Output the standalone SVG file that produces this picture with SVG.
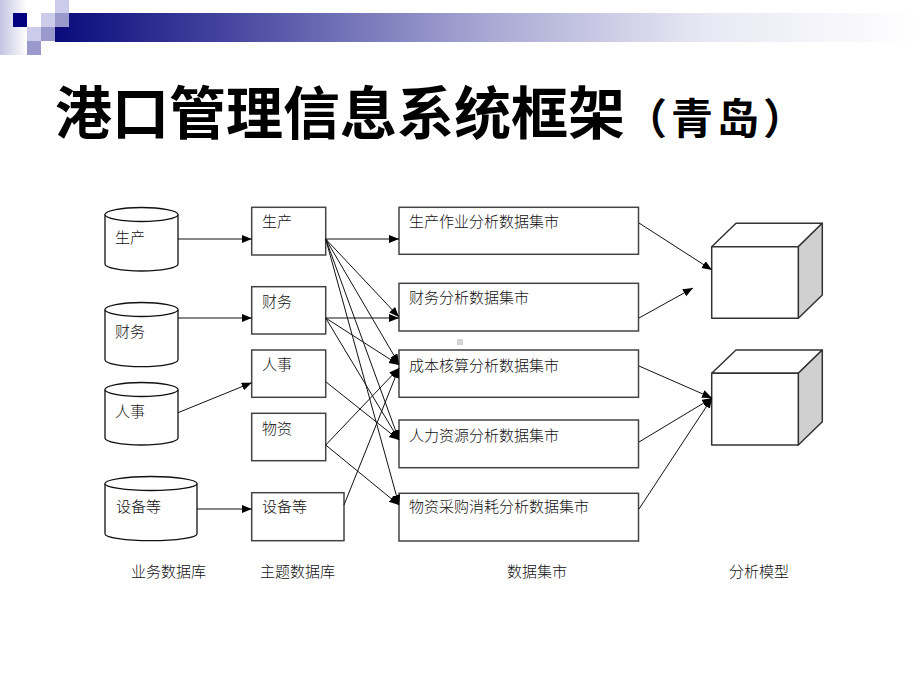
<svg xmlns="http://www.w3.org/2000/svg" width="920" height="690" viewBox="0 0 920 690">
<defs>
<linearGradient id="barG" x1="55" y1="0" x2="920" y2="0" gradientUnits="userSpaceOnUse">
<stop offset="0" stop-color="#0a0a7c"/>
<stop offset="0.2" stop-color="#4646a0"/>
<stop offset="0.5" stop-color="#a8a8d4"/>
<stop offset="0.75" stop-color="#e8e8f4"/>
<stop offset="1" stop-color="#ffffff"/>
</linearGradient>
<linearGradient id="leftG" x1="0" y1="0" x2="1" y2="0">
<stop offset="0" stop-color="#c4c4e2"/>
<stop offset="1" stop-color="#ffffff"/>
</linearGradient>
<marker id="ah" markerUnits="userSpaceOnUse" markerWidth="11" markerHeight="9" refX="10" refY="4" orient="auto">
<path d="M0,0 L10,4 L0,8 z" fill="#000"/>
</marker>
<style>
.t{font-family:"Noto Sans CJK SC","Noto Sans CJK JP",sans-serif;font-size:15px;font-weight:300;fill:#111;}
.box{fill:#fff;stroke:#444;stroke-width:1.5;}
.cyl{fill:#fff;stroke:#111;stroke-width:1.3;}
.cn line{stroke:#111;stroke-width:1;marker-end:url(#ah);}
.cube{fill:#fff;stroke:#333;stroke-width:1.5;stroke-linejoin:round;}
.side{fill:#d0d0d0;stroke:#333;stroke-width:1.5;stroke-linejoin:round;}
</style>
</defs>
<rect width="920" height="690" fill="#fff"/>
<!-- top decoration -->
<g id="decoration">
<rect x="0" y="0" width="27" height="55" fill="url(#leftG)"/>
<rect x="55" y="13" width="865" height="29" fill="url(#barG)"/>
<rect x="13" y="13" width="14" height="14" fill="#000080"/>
<rect x="55" y="0" width="14" height="13" fill="#ccccea"/>
<rect x="41" y="13" width="14" height="14" fill="#ccccea"/>
<rect x="55" y="13" width="14" height="14" fill="#9999cc"/>
<rect x="27" y="27" width="14" height="14" fill="#ccccea"/>
<rect x="41" y="27" width="14" height="14" fill="#9999cc"/>
<rect x="27" y="41" width="14" height="14" fill="#9999cc"/>
</g>
<text id="title" x="55" y="134" font-family="'Noto Sans CJK SC','Noto Sans CJK JP',sans-serif" font-weight="bold" font-size="57" fill="#000">港口管理信息系统框架<tspan font-size="42" letter-spacing="4">（青岛）</tspan></text>
<rect x="457" y="339" width="6" height="6" fill="#d4d4d4"/>
<!-- cylinders -->
<g id="db-production">
<path class="cyl" d="M105,214.5 A36.5,7 0 0 1 178,214.5 L178,264 A36.5,7 0 0 1 105,264 Z"/>
<path class="cyl" d="M105,214.5 A36.5,7 0 0 0 178,214.5"/>
<text class="t" x="115" y="243">生产</text>
</g>
<g id="db-finance">
<path class="cyl" d="M105,309.5 A36.5,7 0 0 1 178,309.5 L178,359.7 A36.5,7 0 0 1 105,359.7 Z"/>
<path class="cyl" d="M105,309.5 A36.5,7 0 0 0 178,309.5"/>
<text class="t" x="115" y="337">财务</text>
</g>
<g id="db-hr">
<path class="cyl" d="M105,389.5 A36.5,7 0 0 1 178,389.5 L178,438 A36.5,7 0 0 1 105,438 Z"/>
<path class="cyl" d="M105,389.5 A36.5,7 0 0 0 178,389.5"/>
<text class="t" x="115" y="417">人事</text>
</g>
<g id="db-equipment">
<path class="cyl" d="M105,483.5 A46,7 0 0 1 197,483.5 L197,533.7 A46,7 0 0 1 105,533.7 Z"/>
<path class="cyl" d="M105,483.5 A46,7 0 0 0 197,483.5"/>
<text class="t" x="116" y="512">设备等</text>
</g>
<!-- theme boxes -->
<g id="theme-production"><rect class="box" x="251.7" y="207.3" width="74" height="47.7"/><text class="t" x="262" y="227">生产</text></g>
<g id="theme-finance"><rect class="box" x="251.7" y="286.7" width="74" height="47.3"/><text class="t" x="262" y="306.5">财务</text></g>
<g id="theme-hr"><rect class="box" x="251.7" y="350" width="74" height="47.3"/><text class="t" x="262" y="370">人事</text></g>
<g id="theme-materials"><rect class="box" x="251.7" y="413.3" width="74" height="47.4"/><text class="t" x="262" y="433.5">物资</text></g>
<g id="theme-equipment"><rect class="box" x="251.7" y="492.7" width="92.3" height="48"/><text class="t" x="262" y="512">设备等</text></g>
<!-- data marts -->
<g id="dm-production"><rect class="box" x="399" y="207.3" width="239.5" height="47"/><text class="t" x="409" y="227">生产作业分析数据集市</text></g>
<g id="dm-finance"><rect class="box" x="399" y="283.3" width="239.5" height="47.7"/><text class="t" x="409" y="303">财务分析数据集市</text></g>
<g id="dm-cost"><rect class="box" x="399" y="350" width="239.5" height="47.3"/><text class="t" x="409" y="370.5">成本核算分析数据集市</text></g>
<g id="dm-hr"><rect class="box" x="399" y="420" width="239.5" height="47.7"/><text class="t" x="409" y="440.5">人力资源分析数据集市</text></g>
<g id="dm-purchase"><rect class="box" x="399" y="493.3" width="239.5" height="47.7"/><text class="t" x="409" y="512">物资采购消耗分析数据集市</text></g>
<!-- cubes -->
<g id="model-1">
<polygon class="cube" points="711.7,246.7 736,223.3 822.3,223.3 798.3,246.7"/>
<polygon class="side" points="798.3,246.7 822.3,223.3 822.3,295 798.3,318.3"/>
<rect class="cube" x="711.7" y="246.7" width="86.6" height="71.6"/>
</g>
<g id="model-2">
<polygon class="cube" points="711.7,373.3 736,350 822.3,350 798.3,373.3"/>
<polygon class="side" points="798.3,373.3 822.3,350 822.3,421.7 798.3,445"/>
<rect class="cube" x="711.7" y="373.3" width="86.6" height="71.7"/>
</g>
<!-- connectors -->
<g id="connectors" class="cn">
<line x1="178" y1="239" x2="251.7" y2="239"/>
<line x1="178" y1="318" x2="251.7" y2="318"/>
<line x1="178" y1="412.7" x2="251.7" y2="382.7"/>
<line x1="197" y1="509" x2="251.7" y2="509"/>
<line x1="325.7" y1="239" x2="399" y2="239"/>
<line x1="325.7" y1="239" x2="399" y2="317"/>
<line x1="325.7" y1="239" x2="399" y2="364"/>
<line x1="325.7" y1="239" x2="399" y2="440"/>
<line x1="325.7" y1="239" x2="399" y2="505"/>
<line x1="325.7" y1="318" x2="399" y2="318"/>
<line x1="325.7" y1="318" x2="399" y2="365"/>
<line x1="325.7" y1="318" x2="399" y2="440"/>
<line x1="325.7" y1="381.7" x2="399" y2="440"/>
<line x1="325.7" y1="445" x2="399" y2="368"/>
<line x1="325.7" y1="445" x2="399" y2="505"/>
<line x1="344" y1="505" x2="399" y2="368"/>
<line x1="639" y1="223" x2="712" y2="270"/>
<line x1="639" y1="318" x2="693" y2="288"/>
<line x1="639" y1="366" x2="712" y2="398"/>
<line x1="639" y1="442" x2="712" y2="398"/>
<line x1="639" y1="509" x2="712" y2="398"/>
</g>
<!-- column labels -->
<g id="labels">
<text class="t" x="131" y="577">业务数据库</text>
<text class="t" x="260" y="577">主题数据库</text>
<text class="t" x="507" y="577">数据集市</text>
<text class="t" x="729" y="577">分析模型</text>
</g>
</svg>
